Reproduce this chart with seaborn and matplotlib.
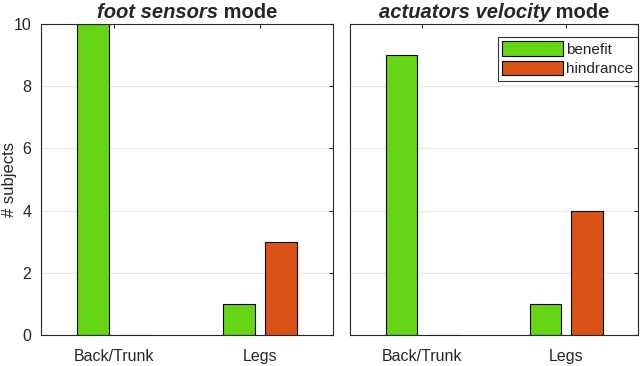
import pandas as pd
import matplotlib
matplotlib.use('Agg')
import matplotlib.pyplot as plt
import seaborn as sns

# data
regions = ['Back/Trunk', 'Legs']
effects = ['benefit', 'hindrance']
foot_benefit = [10, 1]
foot_hindrance = [0, 3]
vel_benefit = [9, 1]
vel_hindrance = [0, 4]
colors = ['#66D516', '#D95319']

sns.set_style('white')
plt.rcParams['font.family'] = ['Liberation Sans', 'DejaVu Sans']


def make_df(benefit, hindrance):
    rows = []
    for r, b, h in zip(regions, benefit, hindrance):
        rows.append({'region': r, 'effect': 'benefit', 'n': b})
        rows.append({'region': r, 'effect': 'hindrance', 'n': h})
    return pd.DataFrame(rows)


fig = plt.figure(figsize=(6.4, 3.66), dpi=100)
ax1 = fig.add_axes([0.064, 0.085, 0.456, 0.849])
ax2 = fig.add_axes([0.547, 0.085, 0.450, 0.849], sharey=ax1)

panels = [(ax1, make_df(foot_benefit, foot_hindrance), 'foot sensors'),
          (ax2, make_df(vel_benefit, vel_hindrance), 'actuators velocity')]

for ax, df, name in panels:
    sns.barplot(data=df, x='region', y='n', hue='effect', hue_order=effects,
                palette=colors, width=0.576, gap=0.24, saturation=1,
                edgecolor='black', linewidth=0.8, ax=ax, legend=(ax is ax2))
    ax.set_xlim(-0.5, 1.5)
    ax.set_ylim(0, 10)
    ax.set_yticks([0, 2, 4, 6, 8, 10])
    ax.set_xlabel('')
    ax.set_ylabel('')
    ax.yaxis.grid(True, color='#e6e6e6', linewidth=0.8)
    ax.set_axisbelow(True)
    for s in ax.spines.values():
        s.set_color('#262626')
        s.set_linewidth(0.8)
    ax.tick_params(direction='in', length=3, color='#262626', labelsize=11.5,
                   labelcolor='#262626', top=True, right=True)
    ax.tick_params(axis='y', pad=7)
    ax.tick_params(axis='x', pad=10)

ax2.tick_params(labelleft=False)
ax1.set_ylabel('# subjects', fontsize=12, color='#262626')
ax1.yaxis.set_label_coords(-0.082, 0.5)

leg = ax2.legend(loc='upper right', bbox_to_anchor=(1.0, 0.96), frameon=True,
                 fancybox=False, edgecolor='black', fontsize=11,
                 handlelength=4.0, handleheight=1.1, handletextpad=0.2,
                 borderpad=0.3, labelspacing=0.25, borderaxespad=0)
leg.get_frame().set_linewidth(0.8)

# titles: italic bold name + bold "mode", centred together
fig.canvas.draw()
renderer = fig.canvas.get_renderer()
for ax, df, name in panels:
    t1 = ax.text(0.5, 1.008, name, transform=ax.transAxes, fontsize=14.5,
                 fontweight='bold', fontstyle='italic', ha='left', va='bottom')
    t2 = ax.text(0.5, 1.008, ' mode', transform=ax.transAxes, fontsize=14.5,
                 fontweight='bold', ha='left', va='bottom')
    w1 = t1.get_window_extent(renderer).width
    w2 = t2.get_window_extent(renderer).width
    axw = ax.get_window_extent(renderer).width
    start = 0.5 - (w1 + w2) / 2 / axw
    t1.set_x(start)
    t2.set_x(start + w1 / axw)

fig.savefig('out.png', dpi=100)
